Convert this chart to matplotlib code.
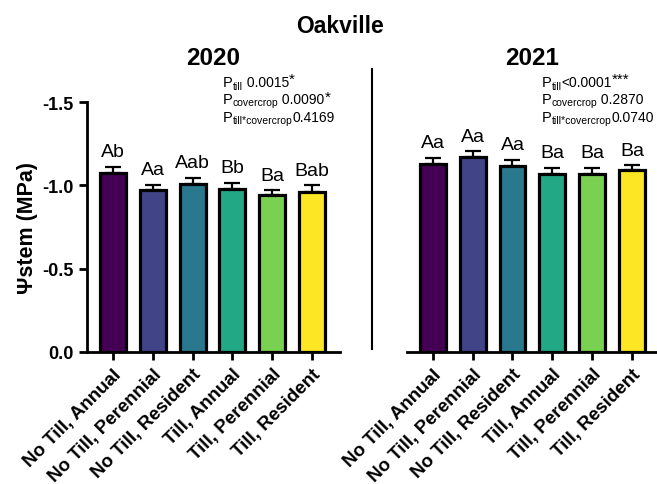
import numpy as np
import matplotlib
matplotlib.use("Agg")
import matplotlib.pyplot as plt
from matplotlib.lines import Line2D

plt.rcParams['font.family'] = ['Liberation Sans', 'DejaVu Sans']
plt.rcParams['axes.unicode_minus'] = False

treatments = ["No Till, Annual", "No Till, Perennial", "No Till, Resident",
              "Till, Annual", "Till, Perennial", "Till, Resident"]
colors = ["#440154", "#414487", "#2A788E", "#22A884", "#7AD151", "#FDE725"]

psi_2020 = [-1.075, -0.975, -1.01, -0.98, -0.94, -0.96]
err_2020 = [0.035, 0.03, 0.035, 0.035, 0.03, 0.04]
let_2020 = ["Ab", "Aa", "Aab", "Bb", "Ba", "Bab"]

psi_2021 = [-1.13, -1.17, -1.115, -1.07, -1.07, -1.09]
err_2021 = [0.035, 0.035, 0.04, 0.035, 0.033, 0.03]
let_2021 = ["Aa", "Aa", "Aa", "Ba", "Ba", "Ba"]

# (subscript, value, stars)
p_2020 = [("till", " 0.0015", "*"), ("covercrop", " 0.0090", "*"),
          ("till*covercrop", "0.4169", "")]
p_2021 = [("till", "<0.0001", "***"), ("covercrop", " 0.2870", ""),
          ("till*covercrop", "0.0740", "")]

W, H = 657, 485
fig = plt.figure(figsize=(W / 100, H / 100), dpi=100)
renderer = fig.canvas.get_renderer()

ax1 = fig.add_axes([87 / W, 1 - 353 / H, 253 / W, 250 / H])
ax2 = fig.add_axes([407 / W, 1 - 353 / H, 250 / W, 250 / H])


def draw(ax, vals, errs, letters):
    x = np.arange(len(vals))
    ax.bar(x, vals, width=0.65, color=colors, edgecolor="black", linewidth=2.3, zorder=2)
    ax.errorbar(x, vals, yerr=[errs, [0] * len(errs)], fmt="none", ecolor="black",
                elinewidth=1.6, capsize=6, capthick=1.6, zorder=1)
    for i in range(len(vals)):
        ax.text(x[i], vals[i] - errs[i] - 0.04, letters[i], ha="center", va="bottom",
                fontsize=14)
    ax.set_ylim(0, -1.5)
    ax.set_xticks(x)
    ax.set_xticklabels(treatments, rotation=45, ha="right", rotation_mode="anchor",
                       fontsize=13.5, fontweight="bold")
    ax.tick_params(axis="x", length=6, width=2)
    for s in ["top", "right"]:
        ax.spines[s].set_visible(False)
    ax.spines["bottom"].set_linewidth(2)
    ax.spines["left"].set_linewidth(2)


def ptext(x, y, sub, val, stars):
    # pieces laid out left to right, positions in pixels from top-left
    sub_dy = 3 if sub == "till" else 2
    parts = [("P", 10.5, 0), (sub, 7.5, sub_dy), (val, 10, 0), (stars, 11, -3)]
    for txt, size, dy in parts:
        if not txt:
            continue
        t = fig.text(x / W, 1 - (y + dy) / H, txt, ha="left", va="baseline", fontsize=size)
        x += t.get_window_extent(renderer).width


draw(ax1, psi_2020, err_2020, let_2020)
ax1.set_xlim(-0.65, 5.7)
ax1.set_yticks([0, -0.5, -1.0, -1.5])
ax1.set_yticklabels(["0.0", "-0.5", "-1.0", "-1.5"], fontsize=13, fontweight="bold")
ax1.tick_params(axis="y", length=6, width=2)
ax1.set_ylabel("Ψstem (MPa)", fontsize=15.5, fontweight="bold", labelpad=3)

draw(ax2, psi_2021, err_2021, let_2021)
ax2.set_xlim(-0.65, 5.63)
ax2.spines["left"].set_visible(False)
ax2.set_yticks([])

fig.text(340 / W, 1 - 33 / H, "Oakville", ha="center", va="baseline",
         fontsize=16.5, fontweight="bold")
fig.text(213 / W, 1 - 65 / H, "2020", ha="center", va="baseline",
         fontsize=17.5, fontweight="bold")
fig.text(532 / W, 1 - 65 / H, "2021", ha="center", va="baseline",
         fontsize=17.5, fontweight="bold")

for k, (sub, val, stars) in enumerate(p_2020):
    ptext(223, 87 + 17.5 * k, sub, val, stars)
for k, (sub, val, stars) in enumerate(p_2021):
    ptext(542, 87 + 17.5 * k, sub, val, stars)

fig.add_artist(Line2D([372 / W, 372 / W], [1 - 70 / H, 1 - 350 / H],
                      color="black", linewidth=1.5, transform=fig.transFigure))

fig.savefig("out.png", dpi=100)
